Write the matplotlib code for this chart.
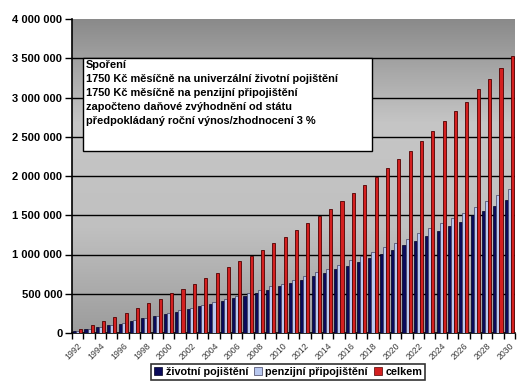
import numpy as np
import matplotlib
matplotlib.use("Agg")
import matplotlib.pyplot as plt
from matplotlib.colors import LinearSegmentedColormap
from matplotlib.patches import Patch

plt.rcParams['font.family'] = ['Liberation Sans', 'DejaVu Sans']

years = np.arange(1992, 2031)

zivotni = np.array([25, 51, 76, 102, 120, 152, 186, 212, 247, 271,
                    302, 340, 369, 410, 440, 470, 512, 548, 596, 640,
                    675, 722, 760, 812, 854, 908, 959, 1006, 1062, 1121,
                    1172, 1236, 1303, 1363, 1418, 1503, 1554, 1618, 1694]) * 1000
penzijni = np.array([26, 53, 78, 104, 130, 162, 196, 221, 257, 287,
                     322, 362, 397, 432, 474, 515, 550, 597, 628, 672,
                     722, 772, 816, 866, 930, 981, 1032, 1092, 1151, 1200,
                     1270, 1334, 1397, 1461, 1525, 1601, 1682, 1754, 1830]) * 1000
celkem = zivotni + penzijni

nazvy = ['životní pojištění', 'penzijní připojištění', 'celkem']
popis = ['Spoření',
         '1750 Kč měsíčně na univerzální životní pojištění',
         '1750 Kč měsíčně na penzijní připojištění',
         'započteno daňové zvýhodnění od státu',
         'předpokládaný roční výnos/zhodnocení 3 %']

fig = plt.figure(figsize=(5.32, 3.87), dpi=100)
ax = fig.add_axes([72/532, 1 - 333/387, (515 - 72)/532, (333 - 19)/387])

# gray gradient background like the Excel plot area
cmap = LinearSegmentedColormap.from_list('bg', ['#8a8a8a', '#c6c6c6', '#c0c0c0', '#9c9c9c'])
grad = np.linspace(0, 1, 256).reshape(-1, 1)
ax.imshow(grad, cmap=cmap, aspect='auto', extent=[0, 1, 0, 1],
          transform=ax.transAxes, zorder=0)

x = np.arange(len(years))
w = 0.27
ax.bar(x - w, zivotni, w, color='#0a0a5a', edgecolor='#000020', lw=0.5, zorder=3)
ax.bar(x, penzijni, w, color='#b8c8f0', edgecolor='#404060', lw=0.5, zorder=3)
ax.bar(x + w, celkem, w, color='#d42020', edgecolor='#500000', lw=0.6, zorder=3)

ax.set_xlim(-0.5, len(years) - 0.5)
ax.set_ylim(0, 4000000)
yt = np.arange(0, 4000001, 500000)
ax.set_yticks(yt)
ax.set_yticklabels(['{:,}'.format(int(v)).replace(',', ' ') for v in yt],
                   fontsize=8, fontweight='bold')
for v in yt[1:-1]:
    ax.axhline(v, color='black', lw=1, zorder=1)

ax.set_xticks(x[::2])
ax.set_xticklabels([str(y) for y in years[::2]], rotation=45, ha='right',
                   rotation_mode='anchor', fontsize=6.3, color='#383838')
ax.tick_params(axis='x', which='major', length=0, pad=6)
ax.set_xticks(np.arange(-0.5, len(years)), minor=True)
ax.tick_params(axis='x', which='minor', length=4, width=1, direction='out')
ax.tick_params(axis='y', length=5, width=1, direction='out', pad=2)

for s in ['top', 'right']:
    ax.spines[s].set_visible(False)
for s in ['left', 'bottom']:
    ax.spines[s].set_linewidth(1.2)

# text box
bx0, by0, bx1, by1 = 83, 58, 372, 151
ax.add_patch(plt.Rectangle((bx0/532, 1 - by1/387), (bx1 - bx0)/532, (by1 - by0)/387,
                           transform=fig.transFigure, facecolor='white',
                           edgecolor='black', lw=1, zorder=5))
for i, t in enumerate(popis):
    fig.text(86/532, 1 - (65 + 14*i)/387, t, fontsize=7.9, fontweight='bold',
             va='center', ha='left', zorder=6)

handles = [Patch(facecolor='#0a0a5a', edgecolor='#000020', lw=0.5),
           Patch(facecolor='#b8c8f0', edgecolor='#404060', lw=0.5),
           Patch(facecolor='#d42020', edgecolor='#500000', lw=0.5)]
leg = fig.legend(handles, nazvy, loc='center', bbox_to_anchor=(288/532, 1 - 372/387),
                 ncol=3, frameon=True, fancybox=False, edgecolor='black',
                 prop={'size': 7.8, 'weight': 'bold'}, handlelength=0.8,
                 handleheight=0.8, handletextpad=0.3, columnspacing=0.5,
                 borderpad=0.25, borderaxespad=0)
leg.get_frame().set_linewidth(1.2)

fig.savefig('out.png', dpi=100)
